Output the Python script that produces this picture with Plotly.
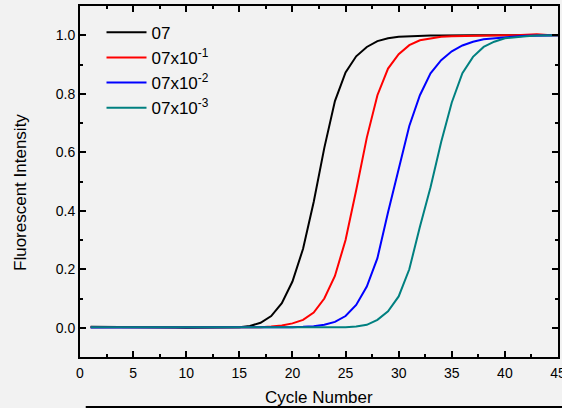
import plotly.graph_objects as go

cycles = list(range(1, 46))

s07 = [0.003, 0.003, 0.003, 0.002, 0.002, 0.002, 0.001, 0.001, 0.001, 0.0,
       0.0, 0.0, 0.0, 0.001, 0.002, 0.006, 0.017, 0.040, 0.084, 0.158,
       0.270, 0.430, 0.615, 0.775, 0.873, 0.928, 0.960, 0.980, 0.990, 0.995,
       0.997, 0.998, 0.999, 0.999, 1.0, 1.0, 1.0, 1.0, 1.0, 1.0,
       1.0, 1.0, 1.0, 1.0, 1.0]
s07e1 = [0.002, 0.002, 0.002, 0.002, 0.001, 0.001, 0.001, 0.001, 0.0, 0.0,
         0.0, 0.0, 0.0, 0.0, 0.0, 0.001, 0.002, 0.004, 0.008, 0.015,
         0.027, 0.052, 0.100, 0.177, 0.300, 0.470, 0.650, 0.795, 0.886, 0.935,
         0.966, 0.983, 0.990, 0.995, 0.997, 0.998, 0.999, 0.999, 1.0, 1.0,
         1.0, 1.002, 1.003, 1.001, 1.0]
s07e2 = [0.001, 0.001, 0.001, 0.001, 0.001, 0.001, 0.001, 0.0, 0.0, 0.0,
         0.0, 0.0, 0.0, 0.0, 0.0, 0.0, 0.0, 0.0, 0.001, 0.002,
         0.003, 0.005, 0.010, 0.020, 0.040, 0.078, 0.141, 0.238, 0.395, 0.540,
         0.690, 0.795, 0.870, 0.915, 0.945, 0.965, 0.978, 0.986, 0.990, 0.994,
         0.996, 0.998, 0.999, 1.0, 1.0]
s07e3 = [0.002, 0.002, 0.002, 0.002, 0.001, 0.001, 0.001, 0.001, 0.0, 0.0,
         0.0, 0.0, 0.0, 0.0, 0.0, 0.0, 0.0, 0.0, 0.0, 0.0,
         0.0, 0.0, 0.001, 0.001, 0.002, 0.004, 0.010, 0.027, 0.056, 0.107,
         0.200, 0.345, 0.480, 0.635, 0.770, 0.870, 0.926, 0.960, 0.978, 0.990,
         0.994, 0.997, 0.999, 1.0, 1.0]

names = ["07", "07x10<sup>-1</sup>", "07x10<sup>-2</sup>", "07x10<sup>-3</sup>"]
series = [s07, s07e1, s07e2, s07e3]
colors = ["#000000", "#ff0000", "#0000ff", "#008080"]

x_title = "Cycle Number"
y_title = "Fluorescent Intensity"

fig = go.Figure()
for n, s, c in zip(names, series, colors):
    fig.add_trace(go.Scatter(x=cycles, y=s, mode="lines", name=n,
                             line=dict(color=c, width=2)))

bg = "#f2f2f2"
FONT = "Liberation Sans, Arial"
axis_common = dict(showline=True, linecolor="black", linewidth=2,
                   mirror="allticks", ticks="inside", ticklen=6, tickwidth=1.5,
                   tickcolor="black", showgrid=False, zeroline=False,
                   ticklabeloverflow="allow", automargin=False,
                   tickfont=dict(family=FONT, size=14, color="#000"))

fig.update_layout(
    width=562, height=408,
    margin=dict(l=80, r=4, t=6, b=51, autoexpand=False),
    paper_bgcolor=bg, plot_bgcolor=bg,
    font=dict(family=FONT, color="#000"),
    showlegend=True,
    legend=dict(x=0.045, y=0.975, xanchor="left", yanchor="top",
                bgcolor="rgba(0,0,0,0)", font=dict(size=17),
                tracegroupgap=0, itemwidth=40),
    xaxis=dict(range=[0, 45], tickmode="linear", tick0=0, dtick=5,
               minor=dict(dtick=2.5, ticks="inside", ticklen=3, tickcolor="black"),
               ticklabelstandoff=2,
               **axis_common),
    yaxis=dict(range=[-0.1, 1.1], tickmode="array",
               tickvals=[0, 0.2, 0.4, 0.6, 0.8, 1.0],
               ticktext=["0.0", "0.2", "0.4", "0.6", "0.8", "1.0"],
               minor=dict(tickvals=[0.1, 0.3, 0.5, 0.7, 0.9], ticks="inside",
                          ticklen=3, tickcolor="black"),
               **axis_common),
)

fig.add_annotation(text=x_title, xref="paper", yref="paper",
                   x=0.5, y=-0.115, xanchor="center", yanchor="middle",
                   showarrow=False, font=dict(family=FONT, size=17))
fig.add_annotation(text=y_title, xref="paper", yref="paper",
                   x=-0.125, y=0.468, xanchor="center", yanchor="middle",
                   textangle=-90, showarrow=False, font=dict(family=FONT, size=17))

fig.add_shape(type="line", xref="paper", yref="paper",
              x0=0.012, x1=1.01, y0=-0.1425, y1=-0.1425,
              line=dict(color="black", width=2))

fig.write_html("out.html")
